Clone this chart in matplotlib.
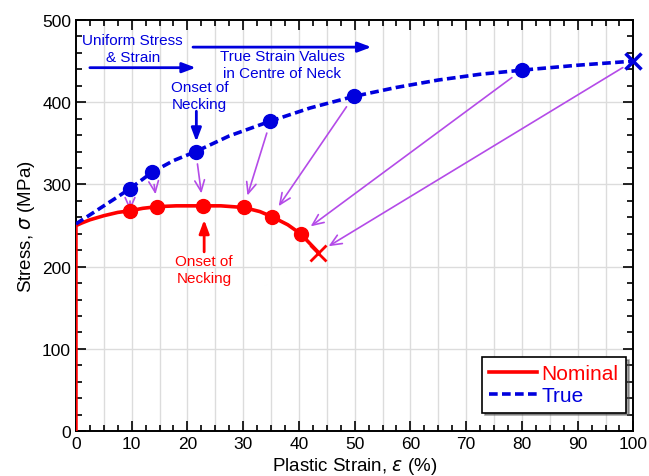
import matplotlib
matplotlib.use("Agg")
import matplotlib.pyplot as plt
from matplotlib.ticker import MultipleLocator

plt.rcParams['font.family'] = ['Liberation Sans', 'DejaVu Sans']

# Curves
nom_curve_x = [0, 0, 1, 2.5, 5, 7.5, 9.7, 12, 14.6, 18, 22.8, 26, 30.1, 33, 35.1, 38, 40.3, 43.4]
nom_curve_y = [0, 250, 253, 257, 262, 266, 268, 271, 273, 274, 274, 274, 272, 267, 261, 251, 240, 218]
true_curve_x = [0, 2.5, 5, 7.5, 9.7, 13.7, 17.5, 21.5, 27.5, 34.9, 42, 49.8, 57.5, 65, 72.5, 80.0, 90, 100]
true_curve_y = [252, 263, 274, 285, 295, 315, 329, 340, 359, 377, 393, 407, 418, 427, 434, 439, 445, 450]

# Marker points
nom_pts_x = [9.7, 14.6, 22.8, 30.1, 35.1, 40.3]
nom_pts_y = [268, 273, 274, 272, 261, 240]
nom_fail = (43.4, 217)
true_pts_x = [9.7, 13.7, 21.5, 34.9, 49.8, 80.0]
true_pts_y = [295, 315, 340, 377, 407, 439]
true_fail = (100, 450)

RED = '#ff0000'
BLUE = '#0000dd'
PURPLE = '#b44be8'

fig = plt.figure(figsize=(6.49, 4.77), dpi=100)
ax = fig.add_axes([0.117, 0.094, 0.859, 0.862])

ax.plot(nom_curve_x, nom_curve_y, color=RED, lw=2.6, label='Nominal', zorder=4)
ax.plot(true_curve_x, true_curve_y, color=BLUE, lw=2.6, ls=(0, (2.4, 1.2)), label='True', zorder=4)
ax.plot(nom_pts_x, nom_pts_y, 'o', color=RED, ms=10, zorder=5)
ax.plot(true_pts_x, true_pts_y, 'o', color=BLUE, ms=10, zorder=5)
ax.plot([nom_fail[0]], [nom_fail[1]], 'x', color=RED, ms=12, mew=2, zorder=5)
ax.plot([true_fail[0]], [true_fail[1]], 'x', color=BLUE, ms=12, mew=2.5, zorder=5, clip_on=False)

# Purple arrows from true to nominal
src = list(zip(true_pts_x, true_pts_y)) + [true_fail]
dst = list(zip(nom_pts_x, nom_pts_y)) + [nom_fail]
for (sx, sy), (dx, dy) in zip(src, dst):
    ax.annotate('', xy=(dx, dy), xytext=(sx, sy),
                arrowprops=dict(arrowstyle='->,head_length=0.8,head_width=0.35', color=PURPLE,
                                lw=1.2, shrinkA=9, shrinkB=9), zorder=3)

TXT = dict(fontsize=11, ha='center', va='center', linespacing=1.25)
# Blue annotations
ax.text(10.2, 465, 'Uniform Stress\n& Strain', color=BLUE, **TXT)
ax.annotate('', xy=(21.5, 442), xytext=(2.5, 442),
            arrowprops=dict(arrowstyle='-|>,head_length=0.8,head_width=0.3', color=BLUE, lw=2, shrinkA=0, shrinkB=0))
ax.annotate('', xy=(53, 467), xytext=(21, 467),
            arrowprops=dict(arrowstyle='-|>,head_length=0.8,head_width=0.3', color=BLUE, lw=2, shrinkA=0, shrinkB=0))
ax.text(37, 446, 'True Strain Values\nin Centre of Neck', color=BLUE, **TXT)
ax.text(22.2, 408, 'Onset of\nNecking', color=BLUE, **TXT)
ax.annotate('', xy=(21.6, 352), xytext=(21.6, 389),
            arrowprops=dict(arrowstyle='-|>,head_length=0.8,head_width=0.3', color=BLUE, lw=2, shrinkA=0, shrinkB=0))

# Red annotation
ax.annotate('', xy=(23, 257), xytext=(23, 218),
            arrowprops=dict(arrowstyle='-|>,head_length=0.8,head_width=0.3', color=RED, lw=2, shrinkA=0, shrinkB=0))
ax.text(23, 197, 'Onset of\nNecking', color=RED, **TXT)

ax.set_xlim(0, 100)
ax.set_ylim(0, 500)
ax.xaxis.set_major_locator(MultipleLocator(10))
ax.xaxis.set_minor_locator(MultipleLocator(2.5))
ax.yaxis.set_major_locator(MultipleLocator(100))
ax.yaxis.set_minor_locator(MultipleLocator(20))
ax.tick_params(which='both', direction='in', top=True, right=True, labelsize=12.5, width=1.2)
ax.tick_params(which='major', length=7)
ax.tick_params(which='minor', length=4)
for s in ax.spines.values():
    s.set_linewidth(1.4)
for v in range(5, 100, 5):
    ax.axvline(v, color='#dcdcdc', lw=1, zorder=0)
for v in range(100, 500, 100):
    ax.axhline(v, color='#dcdcdc', lw=1, zorder=0)

ax.set_xlabel(r'Plastic Strain, $\varepsilon$ (%)', fontsize=13.5, labelpad=3)
ax.set_ylabel(r'Stress, $\sigma$ (MPa)', fontsize=13.5, labelpad=4)

leg = ax.legend(loc='lower right', bbox_to_anchor=(1.005, 0.02), fontsize=15, fancybox=False, shadow=True,
                edgecolor='black', framealpha=1, labelcolor=[RED, BLUE], handlelength=2.3,
                handletextpad=0.2, borderpad=0.35, labelspacing=0.15)
leg.get_frame().set_linewidth(1.2)
leg.set_zorder(10)

fig.savefig('out.png', dpi=100)
